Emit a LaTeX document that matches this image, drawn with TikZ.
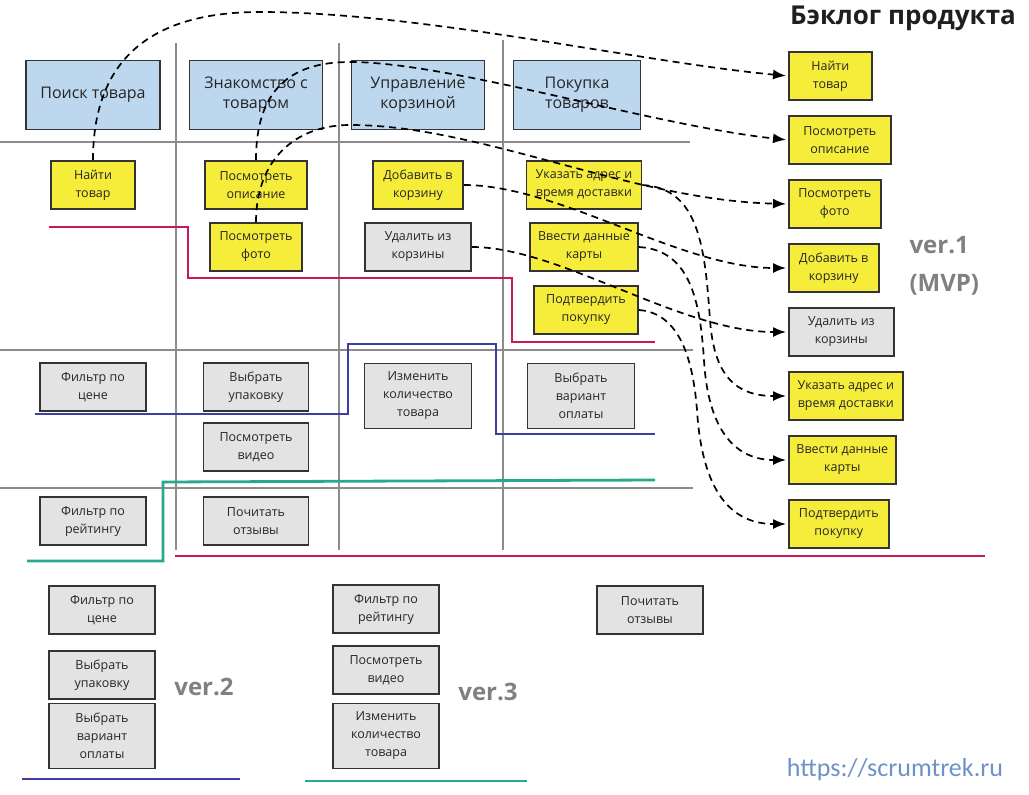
\documentclass[tikz,border=0pt]{standalone}
\usepackage{fontspec}
\setmainfont{Open Sans}
\newfontfamily\urlfont{Carlito}
\usepackage{tikz}
\usetikzlibrary{arrows.meta,shapes}
\definecolor{actblue}{RGB}{189,215,238}
\definecolor{noteyellow}{RGB}{245,237,58}
\definecolor{notegray}{RGB}{227,227,227}
\definecolor{gridgray}{RGB}{140,140,140}
\definecolor{relmagenta}{RGB}{200,25,95}
\definecolor{relblue}{RGB}{62,62,160}
\definecolor{relteal}{RGB}{40,168,140}
\definecolor{urlblue}{RGB}{110,145,200}
\tikzstyle{activity}=[rectangle,draw=black!80,fill=actblue,line width=1.6pt,minimum height=69pt,align=center,text=black!85,font=\fontsize{16}{20}\selectfont]
\tikzstyle{story}=[rectangle,draw=black!80,fill=noteyellow,line width=1.6pt,minimum height=48pt,inner sep=3pt,align=center,text=black!85,font=\fontsize{12.5}{18}\selectfont]
\tikzstyle{later}=[story,fill=notegray]
\tikzstyle{grid} = [draw=gridgray,line width=2.4pt]
\tikzstyle{release} = [line width=2.8pt]
\tikzstyle{link} = [draw,dashed,dash pattern=on 7pt off 5pt,line width=1.7pt,-{Latex[length=13pt,width=10pt]},shorten >=2pt]
\tikzstyle{vertag} = [text=black!50,font=\fontsize{24}{38}\selectfont\bfseries,align=left]

\begin{document}
\begin{tikzpicture}[x=1pt,y=-1pt]
    \useasboundingbox (0,0) rectangle (1029,795);
    	% draw the grid of the story map
    	\draw[grid] (176,43) -- (176,550);
    	\draw[grid] (339,43) -- (339,550);
    	\draw[grid] (503,40) -- (503,550);
    	\draw[grid] (0,142) -- (690,142);
    	\draw[grid] (0,350) -- (693,350);
    	\draw[grid] (0,488) -- (693,488);
    	% release lines
    	\draw[release,relmagenta] (49,227) -- (188,227) -- (188,278) -- (512,278) -- (512,342) -- (655,342);
    	\draw[release,relmagenta] (175,556) -- (985,556);
    	\draw[release,relblue] (35,414) -- (348,414) -- (348,344) -- (496,344) -- (496,434) -- (655,434);
    	\draw[release,relblue] (22,779) -- (240,779);
    	\draw[release,relteal] (27,561) -- (163,561) -- (163,482) -- (655,480);
    	\draw[release,relteal] (305,781) -- (527,781);
    	% draw the activities
	    \foreach \pos/\name/\w/\txt in {{(93,95)/poisk/134/{Поиск товара}}, {(256,95)/znak/133/{Знакомство с\\товаром}},
    	                        {(418,95)/upr/133/{Управление\\корзиной}}, {(577,95)/pok/127/{Покупка\\товаров}}}
        \node[activity,minimum width=\w pt] (\name) at \pos {\txt};
    	% stories of ver.1
	    \foreach \pos/\name/\w/\txt in {{(93,185)/nt/84/{Найти\\товар}}, {(256,185)/po/102/{Посмотреть\\описание}},
    	                        {(256,247)/pf/92/{Посмотреть\\фото}}, {(418,185)/dk/90/{Добавить в\\корзину}},
    	                        {(584,185)/ua/115/{Указать адрес и\\время доставки}}, {(584,247)/vd/108/{Ввести данные\\карты}},
    	                        {(586,310)/pp/104/{Подтвердить\\покупку}}}
        \node[story,minimum width=\w pt] (\name) at \pos {\txt};
        \node[later,minimum width=106pt] (uk) at (418,247) {Удалить из\\корзины};
    	% stories of ver.2 and ver.3
	    \foreach \pos/\name/\w/\h/\txt in {{(93,387)/fc/106/48/{Фильтр по\\цене}}, {(256,387)/vu/105/48/{Выбрать\\упаковку}},
    	                        {(256,447)/pv/105/48/{Посмотреть\\видео}}, {(418,396)/ik/107/65/{Изменить\\количество\\товара}},
    	                        {(581,396)/vo/107/65/{Выбрать\\вариант\\оплаты}}, {(93,521)/fr/106/48/{Фильтр по\\рейтингу}},
    	                        {(256,521)/ot/105/48/{Почитать\\отзывы}}}
        \node[later,minimum width=\w pt,minimum height=\h pt] (\name) at \pos {\txt};
    	% backlog of later versions
	    \foreach \pos/\name/\h/\txt in {{(102,610)/fcb/48/{Фильтр по\\цене}}, {(102,675)/vub/48/{Выбрать\\упаковку}},
    	                        {(102,736)/vob/65/{Выбрать\\вариант\\оплаты}}, {(386,609)/frb/48/{Фильтр по\\рейтингу}},
    	                        {(386,670)/pvb/48/{Посмотреть\\видео}}, {(386,736)/ikb/65/{Изменить\\количество\\товара}},
    	                        {(650,610)/otb/48/{Почитать\\отзывы}}}
        \node[later,minimum width=106pt,minimum height=\h pt] (\name) at \pos {\txt};
    	% product backlog
	    \foreach \y/\name/\w/\txt in {{76/bnt/83/{Найти\\товар}}, {140/bpo/102/{Посмотреть\\описание}},
    	                        {204/bpf/92/{Посмотреть\\фото}}, {268/bdk/90/{Добавить в\\корзину}},
    	                        {396/bua/114/{Указать адрес и\\время доставки}}, {460/bvd/107/{Ввести данные\\карты}},
    	                        {524/bpp/100/{Подтвердить\\покупку}}}
        \node[story,minimum width=\w pt,anchor=west] (\name) at (788,\y) {\txt};
        \node[later,minimum width=105pt,anchor=west] (buk) at (788,332) {Удалить из\\корзины};
    	% labels
    	\node[font=\fontsize{26}{30}\selectfont\bfseries,text=black!88] (title) at (903,18) {Бэклог продукта};
    	\node[vertag,anchor=west] (ver1) at (906,266) {ver.1\\(MVP)};
    	\node[vertag] (ver2) at (204,687) {ver.2};
    	\node[vertag] (ver3) at (488,692) {ver.3};
    	\node[font=\urlfont\fontsize{26}{30}\selectfont,text=urlblue] (site) at (895,770) {https://scrumtrek.ru};
    	% connect stories with the backlog
    	\path[link] (nt.north) .. controls (93,60) and (150,12) .. (260,12) .. controls (420,12) and (640,62) .. (bnt.west);
    	\path[link] (po.north) .. controls (256,90) and (290,62) .. (350,62) .. controls (450,62) and (650,125) .. (bpo.west);
    	\path[link] (pf.north) .. controls (256,160) and (295,125) .. (350,125) .. controls (480,125) and (630,200) .. (bpf.west);
    	\path[link] (dk.east) .. controls (560,185) and (680,268) .. (bdk.west);
    	\path[link] (uk.east) .. controls (560,247) and (680,332) .. (buk.west);
    	\path[link] (ua.east) .. controls (700,188) and (705,250) .. (710,320) .. controls (714,375) and (735,396) .. (bua.west);
    	\path[link] (vd.east) .. controls (690,250) and (700,300) .. (704,360) .. controls (708,430) and (735,460) .. (bvd.west);
    	\path[link] (pp.east) .. controls (680,313) and (693,360) .. (697,410) .. controls (702,490) and (730,524) .. (bpp.west);
	\end{tikzpicture}
\end{document}
